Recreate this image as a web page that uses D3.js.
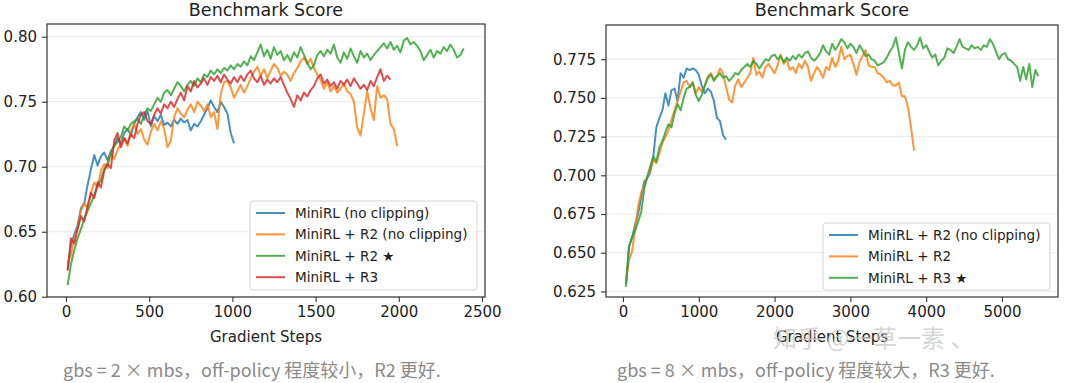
<!DOCTYPE html>
<html>
<head>
<meta charset="utf-8">
<script src="https://cdn.jsdelivr.net/npm/d3@7"></script>
<style>
  html, body { margin: 0; padding: 0; background: #fff; }
  svg { display: block; }
</style>
</head>
<body>
<svg id="chart" width="1080" height="383"></svg>
<script>
// ---------------- DATA ----------------
const titleText = "Benchmark Score";
const xLabelText = "Gradient Steps";

// Left panel (gbs = 2 x mbs)
const stepsL = [10,30,50,70,90,110,130,150,170,190,210,230,250,270,290,310,330,350,370,390,410,430,450,470,490,510,530,550,570,590,610,630,650,670,690,710,730,750,770,790,810,830,850,870,890,910,930,950,970,990,1010,1030,1050,1070,1090,1110,1130,1150,1170,1190,1210,1230,1250,1270,1290,1310,1330,1350,1370,1390,1410,1430,1450,1470,1490,1510,1530,1550,1570,1590,1610,1630,1650,1670,1690,1710,1730,1750,1770,1790,1810,1830,1850,1870,1890,1910,1930,1950,1970,1990,2010,2030,2050,2070,2090,2110,2130,2150,2170,2190,2210,2230,2250,2270,2290,2310,2330,2350,2370,2390];
const leftNames = ["MiniRL (no clipping)", "MiniRL + R2 (no clipping)", "MiniRL + R2 \u2605", "MiniRL + R3"];
const leftBlue = [0.621,0.640,0.648,0.655,0.668,0.672,0.686,0.698,0.709,0.701,0.708,0.711,0.705,0.712,0.716,0.722,0.718,0.726,0.729,0.724,0.733,0.738,0.742,0.736,0.743,0.731,0.739,0.735,0.740,0.732,0.734,0.731,0.736,0.733,0.737,0.734,0.736,0.728,0.733,0.731,0.735,0.740,0.745,0.751,0.746,0.742,0.750,0.746,0.741,0.726,0.718];
const leftOrange = [0.626,0.632,0.645,0.652,0.666,0.672,0.668,0.680,0.688,0.684,0.697,0.702,0.699,0.710,0.706,0.713,0.718,0.722,0.716,0.728,0.733,0.725,0.729,0.721,0.717,0.727,0.733,0.728,0.735,0.729,0.715,0.720,0.738,0.745,0.741,0.738,0.744,0.748,0.742,0.750,0.747,0.743,0.748,0.738,0.742,0.729,0.756,0.765,0.766,0.761,0.753,0.758,0.763,0.757,0.762,0.768,0.773,0.777,0.770,0.775,0.768,0.774,0.779,0.776,0.770,0.773,0.771,0.766,0.772,0.776,0.781,0.784,0.779,0.783,0.776,0.771,0.767,0.760,0.765,0.758,0.762,0.757,0.760,0.764,0.758,0.756,0.750,0.730,0.724,0.741,0.758,0.745,0.736,0.762,0.753,0.755,0.752,0.733,0.729,0.716];
const leftGreen = [0.609,0.625,0.636,0.645,0.652,0.660,0.666,0.672,0.678,0.685,0.690,0.698,0.703,0.710,0.716,0.719,0.723,0.731,0.728,0.733,0.735,0.737,0.733,0.740,0.745,0.743,0.748,0.753,0.750,0.757,0.759,0.755,0.760,0.765,0.762,0.758,0.763,0.766,0.762,0.768,0.765,0.771,0.769,0.774,0.771,0.775,0.772,0.776,0.774,0.778,0.775,0.779,0.777,0.781,0.778,0.785,0.782,0.788,0.794,0.785,0.790,0.783,0.792,0.786,0.789,0.782,0.786,0.781,0.788,0.784,0.792,0.786,0.780,0.775,0.778,0.786,0.789,0.785,0.790,0.787,0.794,0.784,0.780,0.788,0.783,0.791,0.785,0.780,0.789,0.784,0.787,0.782,0.786,0.789,0.792,0.795,0.791,0.796,0.790,0.793,0.788,0.797,0.799,0.794,0.796,0.793,0.789,0.782,0.786,0.790,0.784,0.789,0.787,0.792,0.789,0.794,0.790,0.784,0.786,0.791];
const leftRed = [0.620,0.645,0.641,0.652,0.662,0.658,0.670,0.680,0.676,0.688,0.684,0.697,0.702,0.699,0.720,0.726,0.715,0.722,0.718,0.725,0.722,0.733,0.740,0.742,0.735,0.733,0.740,0.745,0.741,0.748,0.745,0.750,0.746,0.752,0.757,0.751,0.762,0.758,0.766,0.761,0.764,0.768,0.763,0.769,0.766,0.770,0.765,0.771,0.767,0.764,0.769,0.765,0.770,0.766,0.771,0.774,0.768,0.765,0.770,0.763,0.767,0.764,0.768,0.765,0.769,0.763,0.757,0.752,0.746,0.755,0.751,0.757,0.754,0.759,0.762,0.768,0.771,0.764,0.767,0.762,0.765,0.760,0.766,0.763,0.767,0.762,0.768,0.764,0.760,0.763,0.759,0.766,0.762,0.769,0.775,0.766,0.770,0.767];
const leftXTicks = [0, 500, 1000, 1500, 2000, 2500];
const leftYTicks = [0.60, 0.65, 0.70, 0.75, 0.80];
const leftCaption = "gbs = 2 × mbs，off-policy 程度较小，R2 更好.";

// Right panel (gbs = 8 x mbs)
const stepsR = [40,80,120,160,200,240,280,320,360,400,440,480,520,560,600,640,680,720,760,800,840,880,920,960,1000,1040,1080,1120,1160,1200,1240,1280,1320,1360,1400,1440,1480,1520,1560,1600,1640,1680,1720,1760,1800,1840,1880,1920,1960,2000,2040,2080,2120,2160,2200,2240,2280,2320,2360,2400,2440,2480,2520,2560,2600,2640,2680,2720,2760,2800,2840,2880,2920,2960,3000,3040,3080,3120,3160,3200,3240,3280,3320,3360,3400,3440,3480,3520,3560,3600,3640,3680,3720,3760,3800,3840,3880,3920,3960,4000,4040,4080,4120,4160,4200,4240,4280,4320,4360,4400,4440,4480,4520,4560,4600,4640,4680,4720,4760,4800,4840,4880,4920,4960,5000,5040,5080,5120,5160,5200,5240,5280,5320,5360,5400,5440,5480];
const rightNames = ["MiniRL + R2 (no clipping)", "MiniRL + R2", "MiniRL + R3 \u2605"];
const rightBlue = [0.630,0.654,0.660,0.668,0.675,0.686,0.696,0.698,0.702,0.712,0.731,0.737,0.742,0.753,0.745,0.755,0.756,0.748,0.766,0.763,0.769,0.768,0.769,0.768,0.765,0.758,0.753,0.756,0.754,0.748,0.737,0.735,0.726,0.723];
const rightOrange = [0.632,0.645,0.651,0.665,0.680,0.689,0.693,0.699,0.703,0.710,0.708,0.714,0.721,0.725,0.729,0.736,0.742,0.748,0.754,0.760,0.761,0.757,0.760,0.753,0.757,0.754,0.758,0.764,0.766,0.762,0.764,0.769,0.766,0.757,0.749,0.747,0.758,0.762,0.757,0.760,0.763,0.766,0.776,0.765,0.767,0.763,0.770,0.772,0.769,0.766,0.771,0.778,0.772,0.775,0.768,0.770,0.766,0.772,0.769,0.774,0.770,0.761,0.766,0.770,0.767,0.763,0.770,0.768,0.776,0.770,0.774,0.783,0.775,0.777,0.778,0.772,0.765,0.773,0.777,0.781,0.771,0.770,0.770,0.766,0.765,0.763,0.760,0.761,0.758,0.758,0.760,0.751,0.751,0.744,0.731,0.716];
const rightGreen = [0.628,0.654,0.660,0.664,0.670,0.676,0.691,0.699,0.706,0.712,0.709,0.718,0.722,0.728,0.733,0.731,0.740,0.746,0.742,0.750,0.756,0.757,0.760,0.752,0.748,0.752,0.758,0.763,0.765,0.761,0.764,0.766,0.763,0.764,0.761,0.763,0.766,0.765,0.768,0.770,0.772,0.770,0.774,0.772,0.769,0.772,0.775,0.774,0.777,0.778,0.775,0.777,0.773,0.776,0.774,0.777,0.775,0.778,0.776,0.779,0.780,0.776,0.774,0.776,0.779,0.784,0.780,0.778,0.785,0.781,0.784,0.788,0.786,0.782,0.785,0.783,0.779,0.784,0.781,0.777,0.778,0.775,0.774,0.771,0.772,0.773,0.776,0.780,0.783,0.789,0.779,0.769,0.781,0.786,0.783,0.781,0.784,0.789,0.782,0.784,0.780,0.776,0.778,0.771,0.774,0.776,0.782,0.781,0.779,0.783,0.788,0.783,0.782,0.781,0.784,0.782,0.783,0.781,0.784,0.783,0.788,0.785,0.780,0.775,0.778,0.779,0.775,0.774,0.772,0.770,0.761,0.770,0.762,0.772,0.757,0.768,0.764];
const rightXTicks = [0, 1000, 2000, 3000, 4000, 5000];
const rightYTicks = [0.625, 0.650, 0.675, 0.700, 0.725, 0.750, 0.775];
const rightCaption = "gbs = 8 × mbs，off-policy 程度较大，R3 更好.";

const watermarkText = "知乎 @一草一素 、";

// ---------------- DRAW ----------------
const colors = ["#1f77b4", "#ff7f0e", "#2ca02c", "#d62728"];
const svg = d3.select("#chart");
const FONT = "DejaVu Sans, Verdana, sans-serif";

function drawPanel(cfg) {
  const g = svg.append("g");
  const x = d3.scaleLinear().domain(cfg.xDomain).range([cfg.left, cfg.right]);
  const y = d3.scaleLinear().domain(cfg.yDomain).range([cfg.bottom, cfg.top]);

  // grid
  g.append("g").selectAll("line").data(cfg.yTicks).join("line")
    .attr("x1", cfg.left).attr("x2", cfg.right)
    .attr("y1", d => y(d)).attr("y2", d => y(d))
    .attr("stroke", "#ebebeb").attr("stroke-width", 1);

  // lines
  const line = d3.line().x(d => x(d[0])).y(d => y(d[1]));
  cfg.series.forEach((s, i) => {
    const pts = s.values.map((v, j) => [cfg.steps[j], v]);
    g.append("path").datum(pts)
      .attr("d", line)
      .attr("fill", "none")
      .attr("stroke", cfg.colors[i])
      .attr("stroke-opacity", 0.82)
      .attr("stroke-width", 2)
      .attr("stroke-linejoin", "round");
  });

  // axes
  const xAxis = d3.axisBottom(x).tickValues(cfg.xTicks).tickSize(5).tickPadding(4).tickFormat(d3.format("d"));
  const yAxis = d3.axisLeft(y).tickValues(cfg.yTicks).tickSize(5).tickPadding(5).tickFormat(d3.format(cfg.yFmt));
  const gx = g.append("g").attr("transform", `translate(0,${cfg.bottom})`).call(xAxis);
  const gy = g.append("g").attr("transform", `translate(${cfg.left},0)`).call(yAxis);
  [gx, gy].forEach(a => {
    a.select(".domain").remove();
    a.selectAll(".tick line").attr("stroke", "#333").attr("stroke-width", 1.1);
    a.selectAll(".tick text").attr("fill", "#222").style("font-family", FONT).style("font-size", "15px");
  });

  // frame
  g.append("rect")
    .attr("x", cfg.left).attr("y", cfg.top)
    .attr("width", cfg.right - cfg.left).attr("height", cfg.bottom - cfg.top)
    .attr("fill", "none").attr("stroke", "#333").attr("stroke-width", 1.2);

  // title
  g.append("text").attr("x", (cfg.left + cfg.right) / 2).attr("y", 16)
    .attr("text-anchor", "middle").attr("fill", "#222")
    .style("font-family", FONT).style("font-size", "17.5px").text(titleText);

  // x label
  g.append("text").attr("x", (cfg.left + cfg.right) / 2).attr("y", 342)
    .attr("text-anchor", "middle").attr("fill", "#222")
    .style("font-family", FONT).style("font-size", "15px").text(xLabelText);

  // legend
  const lg = g.append("g");
  lg.append("rect").attr("x", cfg.legend.x).attr("y", cfg.legend.y)
    .attr("width", cfg.legend.w).attr("height", cfg.legend.h)
    .attr("rx", 3).attr("fill", "#fff").attr("fill-opacity", 0.85)
    .attr("stroke", "#d4d4d4").attr("stroke-width", 1);
  cfg.series.forEach((s, i) => {
    const yy = cfg.legend.y + 12 + i * 21.4;
    lg.append("line").attr("x1", cfg.legend.x + 6).attr("x2", cfg.legend.x + 35)
      .attr("y1", yy).attr("y2", yy)
      .attr("stroke", cfg.colors[i]).attr("stroke-opacity", 0.82).attr("stroke-width", 2);
    lg.append("text").attr("x", cfg.legend.x + 45).attr("y", yy + 4.8)
      .attr("fill", "#222").style("font-family", FONT).style("font-size", "13.6px").text(s.name);
  });

  // caption
  svg.append("text").attr("x", cfg.captionX).attr("y", 377)
    .attr("fill", "#8a8a8a")
    .style("font-family", "'Noto Sans CJK SC', 'Noto Sans', sans-serif")
    .style("font-size", "18px").text(cfg.caption);
}

drawPanel({
  left: 47, right: 485, top: 24, bottom: 297,
  xDomain: [-114, 2518], yDomain: [0.5998, 0.8098],
  xTicks: leftXTicks, yTicks: leftYTicks, yFmt: ".2f",
  steps: stepsL,
  series: [
    { name: leftNames[0], values: leftBlue },
    { name: leftNames[1], values: leftOrange },
    { name: leftNames[2], values: leftGreen },
    { name: leftNames[3], values: leftRed }
  ],
  colors: colors,
  legend: { x: 250, y: 201, w: 227, h: 89 },
  caption: leftCaption, captionX: 63
});

drawPanel({
  left: 606, right: 1058, top: 25, bottom: 297,
  xDomain: [-224, 5739], yDomain: [0.6214, 0.7971],
  xTicks: rightXTicks, yTicks: rightYTicks, yFmt: ".3f",
  steps: stepsR,
  series: [
    { name: rightNames[0], values: rightBlue },
    { name: rightNames[1], values: rightOrange },
    { name: rightNames[2], values: rightGreen }
  ],
  colors: colors.slice(0, 3),
  legend: { x: 823, y: 223, w: 227, h: 67 },
  caption: rightCaption, captionX: 617
});

// watermark (present in the reference image, drawn faintly over the x label)
svg.append("text").attr("x", 773).attr("y", 347)
  .attr("fill", "#c8c8c8").attr("fill-opacity", 0.75)
  .style("font-family", "'Noto Sans CJK SC', sans-serif")
  .style("font-size", "24px").text(watermarkText);
</script>
</body>
</html>
